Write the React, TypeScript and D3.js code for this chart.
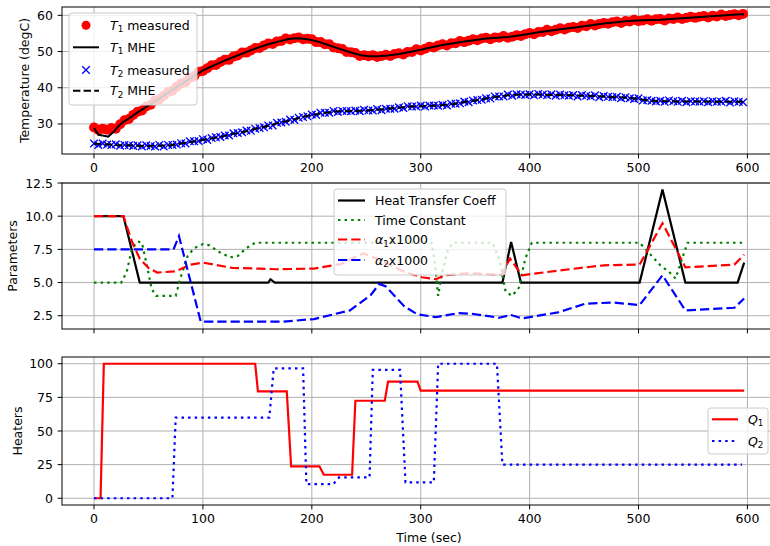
import React from "react";
import { scaleLinear, line } from "d3";

// ---------- data ----------
const xTicks = [0, 100, 200, 300, 400, 500, 600];
const tempTicks = [30, 40, 50, 60];
const paramTicks = [2.5, 5.0, 7.5, 10.0, 12.5];
const heaterTicks = [0, 25, 50, 75, 100];

// measured temperatures, one sample every 4 s starting at t = 0
const sampleStep = 4;
const t1Measured = [
  29.0, 28.4, 28.7, 28.4, 28.9, 28.7, 29.9, 31.0, 31.4, 32.5,
  33.4, 33.7, 34.8, 35.3, 36.5, 36.8, 37.8, 38.8, 39.2, 40.3,
  41.2, 41.5, 42.7, 43.2, 44.4, 44.6, 45.4, 46.2, 46.3, 47.1,
  47.7, 47.7, 48.6, 48.9, 49.7, 49.7, 50.3, 51.0, 51.0, 51.7,
  52.2, 52.1, 52.8, 52.9, 53.6, 53.3, 53.7, 53.9, 53.4, 53.5,
  53.4, 52.6, 52.6, 52.0, 52.0, 51.1, 50.9, 50.7, 49.9, 49.8,
  49.6, 48.8, 49.0, 48.7, 49.0, 48.5, 48.8, 49.1, 48.8, 49.3,
  49.5, 49.2, 49.9, 49.9, 50.6, 50.3, 50.8, 51.3, 51.1, 51.7,
  52.0, 51.7, 52.3, 52.3, 52.9, 52.6, 53.0, 53.4, 53.1, 53.6,
  53.8, 53.4, 53.9, 53.8, 54.3, 53.8, 54.1, 54.5, 54.3, 54.8,
  55.1, 54.8, 55.4, 55.4, 56.0, 55.6, 56.0, 56.4, 56.1, 56.6,
  56.8, 56.5, 57.1, 57.0, 57.6, 57.2, 57.6, 57.9, 57.7, 58.1,
  58.3, 57.9, 58.4, 58.3, 58.8, 58.4, 58.6, 58.9, 58.5, 58.9,
  59.0, 58.6, 59.1, 59.0, 59.4, 59.0, 59.3, 59.6, 59.3, 59.6,
  59.8, 59.4, 59.9, 59.7, 60.2, 59.8, 60.1, 60.3, 60.0, 60.4,
];
const t2Measured = [
  24.6, 24.2, 24.6, 24.3, 24.2, 24.4, 24.0, 24.2, 24.1, 23.9,
  24.1, 23.8, 24.1, 23.9, 23.8, 24.2, 23.8, 24.2, 24.2, 24.3,
  24.7, 24.6, 25.2, 25.2, 25.3, 25.8, 25.6, 26.1, 26.3, 26.4,
  26.8, 26.8, 27.4, 27.5, 27.7, 28.2, 28.1, 28.7, 28.9, 29.1,
  29.6, 29.6, 30.3, 30.4, 30.6, 31.2, 31.1, 31.7, 31.9, 32.1,
  32.6, 32.5, 33.1, 33.1, 33.1, 33.6, 33.3, 33.6, 33.6, 33.5,
  33.7, 33.5, 33.9, 33.7, 33.7, 34.1, 33.8, 34.2, 34.2, 34.2,
  34.6, 34.4, 34.9, 34.8, 34.8, 35.1, 34.8, 35.1, 35.1, 35.0,
  35.3, 35.1, 35.6, 35.6, 35.7, 36.2, 36.0, 36.5, 36.6, 36.7,
  37.1, 37.0, 37.6, 37.6, 37.6, 38.1, 37.8, 38.2, 38.1, 38.0,
  38.2, 37.9, 38.3, 38.1, 37.9, 38.2, 37.8, 38.1, 37.9, 37.8,
  38.0, 37.6, 38.0, 37.8, 37.6, 37.9, 37.4, 37.7, 37.5, 37.4,
  37.5, 37.1, 37.4, 37.1, 36.9, 37.1, 36.5, 36.6, 36.4, 36.2,
  36.4, 36.1, 36.5, 36.3, 36.1, 36.4, 36.0, 36.3, 36.2, 36.1,
  36.3, 36.0, 36.3, 36.1, 36.1, 36.4, 35.9, 36.3, 36.1, 36.0,
];

// MHE estimates [time, value]
const t1Mhe: [number, number][] = [
  [0, 28.9], [4, 27.0], [8, 26.8], [13, 26.5], [18, 27.8], [23, 29.6], [27, 30.6],
  [32, 31.5], [40, 33.2], [50, 35.1], [60, 37.0], [70, 39.0], [80, 41.0], [90, 42.9],
  [100, 44.8], [110, 46.2], [120, 47.5], [130, 48.7], [140, 49.9], [150, 51.0],
  [160, 52.0], [170, 52.8], [180, 53.5], [188, 53.7], [196, 53.4], [205, 52.8],
  [215, 51.8], [225, 50.8], [235, 49.8], [245, 49.0], [253, 48.7], [260, 48.7],
  [270, 48.9], [280, 49.3], [290, 49.9], [300, 50.5], [310, 51.2], [320, 51.8],
  [330, 52.3], [340, 52.8], [350, 53.2], [360, 53.6], [370, 53.8], [380, 54.0],
  [390, 54.4], [400, 54.9], [410, 55.4], [420, 55.8], [430, 56.2], [440, 56.6],
  [450, 57.0], [460, 57.4], [470, 57.8], [480, 58.1], [490, 58.4], [500, 58.6],
  [510, 58.7], [520, 58.8], [530, 59.0], [540, 59.2], [550, 59.4], [560, 59.6],
  [570, 59.8], [580, 60.0], [590, 60.2], [597, 60.3],
];
const t2Mhe: [number, number][] = [
  [0, 24.5], [10, 24.4], [20, 24.2], [30, 24.1], [40, 24.0], [50, 23.9], [60, 24.0],
  [70, 24.1], [80, 24.6], [90, 25.1], [100, 25.6], [110, 26.1], [120, 26.7],
  [130, 27.4], [140, 28.0], [150, 28.8], [160, 29.5], [170, 30.3], [180, 31.0],
  [190, 31.8], [200, 32.5], [210, 33.0], [220, 33.4], [230, 33.5], [240, 33.6],
  [250, 33.7], [260, 33.9], [270, 34.2], [280, 34.5], [290, 34.8], [300, 34.9],
  [310, 35.0], [320, 35.2], [330, 35.5], [340, 36.0], [350, 36.5], [360, 37.0],
  [370, 37.5], [380, 37.9], [390, 38.1], [400, 38.1], [410, 38.1], [420, 38.0],
  [430, 38.0], [440, 37.9], [450, 37.8], [460, 37.7], [470, 37.5], [480, 37.4],
  [490, 37.2], [500, 36.9], [510, 36.4], [520, 36.3], [540, 36.2], [560, 36.2],
  [580, 36.1], [597, 36.1],
];

// estimated parameters [time, value]
const heatTransfer: [number, number][] = [
  [0, 10], [27, 10], [42, 5], [160, 5], [162, 5.25], [166, 5], [375, 5], [383, 8.05],
  [392, 5], [501, 5], [522, 12], [543, 5], [591, 5], [597, 6.5],
];
const timeConstant: [number, number][] = [
  [0, 5], [25, 5], [30, 5.8], [35, 7.6], [40, 8.1], [44, 8.0], [48, 6.5], [53, 4.5],
  [57, 4.0], [75, 4.0], [80, 5.5], [86, 7.0], [92, 7.6], [100, 7.9], [106, 7.8],
  [115, 7.3], [125, 6.9], [132, 7.0], [140, 7.6], [148, 8.0], [310, 8.0], [313, 6.5],
  [316, 4.0], [319, 5.5], [325, 7.5], [330, 8.0], [366, 8.0], [372, 6.8], [378, 4.3],
  [384, 4.0], [390, 4.6], [396, 6.8], [402, 8.0], [501, 8.0], [510, 7.2], [520, 6.3],
  [528, 5.8], [534, 5.3], [540, 6.8], [545, 8.0], [597, 8.0],
];
const alpha1: [number, number][] = [
  [0, 10], [27, 10], [35, 8.05], [42, 6.8], [50, 6.1], [58, 5.75], [75, 5.85],
  [89, 6.35], [100, 6.5], [110, 6.35], [127, 6.1], [152, 6.05], [168, 6.0],
  [202, 6.05], [227, 6.4], [247, 7.2], [260, 6.8], [285, 5.8], [301, 5.4],
  [314, 5.25], [322, 5.55], [343, 5.7], [374, 5.6], [382, 6.8], [393, 5.55],
  [426, 5.9], [468, 6.3], [501, 6.35], [522, 9.47], [543, 6.15], [588, 6.35], [597, 7.1],
];
const alpha2: [number, number][] = [
  [0, 7.5], [73, 7.5], [78, 8.5], [98, 2.05], [173, 2.05], [202, 2.25], [235, 2.9],
  [254, 4.05], [262, 4.9], [268, 4.7], [285, 3.2], [297, 2.6], [314, 2.4], [335, 2.7],
  [347, 2.65], [372, 2.35], [383, 2.55], [393, 2.3], [426, 2.75], [451, 3.4],
  [476, 3.5], [501, 3.3], [522, 5.55], [543, 2.9], [588, 3.1], [597, 3.8],
];

// heater inputs [time, %]
const q1: [number, number][] = [
  [0, 0], [6, 0], [9, 100], [148, 100], [150.5, 79.5], [177, 79.5], [181, 23.75],
  [207, 23.75], [211, 17.5], [237, 17.5], [240, 72.5], [267, 72.5], [270, 86.75],
  [297, 86.75], [300, 80], [597, 80],
];
const q2: [number, number][] = [
  [0, 0], [72, 0], [75, 60], [161, 60], [165, 96.5], [192, 96.5], [195, 10.5],
  [220, 10.5], [222, 13], [225, 15.5], [253, 15.5], [256, 95.5], [281, 95.5],
  [286, 11.75], [312, 11.75], [316, 100], [370, 100], [375, 25], [595, 25],
];

// ---------- layout ----------
const W = 770;
const H = 546;
const LEFT = 62;
const RIGHT = 796; // right spine falls outside the cropped picture
const FONT = "DejaVu Sans, sans-serif";
const FS = 12.5;
const DASH = "9.25,4";
const DOT = "2.5,4.1";

const x = scaleLinear().domain([-29.4, 644.6]).range([LEFT, RIGHT]);
const yTemp = scaleLinear().domain([21.7, 62.3]).range([154, 7]);
const yPar = scaleLinear().domain([1.5, 12.5]).range([329, 183]);
const yHeat = scaleLinear().domain([-5, 105]).range([505, 357]);

const path = (y: any, d: [number, number][]) =>
  line<[number, number]>()
    .x((p) => x(p[0]))
    .y((p) => y(p[1]))(d) || "";

function Axes({ id, y, ticks, fmt, top, bottom, xLabels, ylabel, ylabelX, children }: any) {
  return (
    <g>
      <defs>
        <clipPath id={id}>
          <rect x={LEFT} y={top} width={RIGHT - LEFT} height={bottom - top} />
        </clipPath>
      </defs>
      <g stroke="#b0b0b0" strokeWidth={1}>
        {xTicks.map((t) => (
          <line key={t} x1={x(t)} x2={x(t)} y1={top} y2={bottom} />
        ))}
        {ticks.map((t: number) => (
          <line key={t} x1={LEFT} x2={RIGHT} y1={y(t)} y2={y(t)} />
        ))}
      </g>
      <g clipPath={`url(#${id})`}>{children}</g>
      <rect x={LEFT} y={top} width={RIGHT - LEFT} height={bottom - top} fill="none" stroke="#000" strokeWidth={1} />
      <g stroke="#000" strokeWidth={1}>
        {xTicks.map((t) => (
          <line key={t} x1={x(t)} x2={x(t)} y1={bottom} y2={bottom + 4.4} />
        ))}
        {ticks.map((t: number) => (
          <line key={t} x1={LEFT - 4.4} x2={LEFT} y1={y(t)} y2={y(t)} />
        ))}
      </g>
      <g fontFamily={FONT} fontSize={FS} fill="#000">
        {xLabels &&
          xTicks.map((t) => (
            <text key={t} x={x(t)} y={bottom + 18} textAnchor="middle">
              {t}
            </text>
          ))}
        {ticks.map((t: number) => (
          <text key={t} x={LEFT - 9} y={y(t) + 4.5} textAnchor="end">
            {fmt(t)}
          </text>
        ))}
        <text
          transform={`translate(${ylabelX},${(top + bottom) / 2}) rotate(-90)`}
          textAnchor="middle"
        >
          {ylabel}
        </text>
      </g>
    </g>
  );
}

function LegendBox({ x0, y0, w, h }: any) {
  return (
    <rect x={x0} y={y0} width={w} height={h} rx={3} fill="#fff" fillOpacity={0.8} stroke="#cccccc" strokeWidth={1} />
  );
}

function MathLabel({ x0, y0, sym, sub, rest }: any) {
  return (
    <text x={x0} y={y0} fontFamily={FONT} fontSize={FS}>
      <tspan fontStyle="italic">{sym}</tspan>
      <tspan fontSize={FS * 0.7} dy={2.6}>{sub}</tspan>
      <tspan dy={-2.6}>{rest}</tspan>
    </text>
  );
}

const xMark = "M-3.8,-3.8L3.8,3.8M-3.8,3.8L3.8,-3.8";

export default function App() {
  return (
    <svg width={W} height={H} style={{ position: "absolute", left: 0, top: 0, background: "#fff" }}>
      {/* temperatures */}
      <Axes id="c1" y={yTemp} ticks={tempTicks} fmt={(t: number) => t} top={7} bottom={154} xLabels ylabel="Temperature (degC)" ylabelX={29}>
        {t1Measured.map((v, i) => (
          <circle key={i} cx={x(i * sampleStep)} cy={yTemp(v)} r={5} fill="#ff0000" />
        ))}
        <path d={path(yTemp, t1Mhe)} fill="none" stroke="#000" strokeWidth={2} />
        {t2Measured.map((v, i) => (
          <path key={i} d={xMark} transform={`translate(${x(i * sampleStep)},${yTemp(v)})`} stroke="#0000ff" strokeWidth={1.3} />
        ))}
        <path d={path(yTemp, t2Mhe)} fill="none" stroke="#000" strokeWidth={2} strokeDasharray="7.4,3.2" />
      </Axes>
      <g>
        <LegendBox x0={69} y0={13} w={128} h={92} />
        <circle cx={86} cy={25.3} r={4.5} fill="#ff0000" />
        <MathLabel x0={110} y0={29.8} sym="T" sub="1" rest=" measured" />
        <line x1={73} x2={99} y1={47.3} y2={47.3} stroke="#000" strokeWidth={2} />
        <MathLabel x0={110} y0={51.8} sym="T" sub="1" rest=" MHE" />
        <path d={xMark} transform="translate(86,70)" stroke="#0000ff" strokeWidth={1.3} />
        <MathLabel x0={110} y0={74.5} sym="T" sub="2" rest=" measured" />
        <line x1={73} x2={99} y1={90.7} y2={90.7} stroke="#000" strokeWidth={2} strokeDasharray="7.4,3.2" />
        <MathLabel x0={110} y0={95.2} sym="T" sub="2" rest=" MHE" />
      </g>

      {/* parameters */}
      <Axes id="c2" y={yPar} ticks={paramTicks} fmt={(t: number) => t.toFixed(1)} top={183} bottom={329} xLabels={false} ylabel="Parameters" ylabelX={17}>
        <path d={path(yPar, heatTransfer)} fill="none" stroke="#000" strokeWidth={2.2} />
        <path d={path(yPar, timeConstant)} fill="none" stroke="#008000" strokeWidth={2.2} strokeDasharray={DOT} />
        <path d={path(yPar, alpha1)} fill="none" stroke="#ff0000" strokeWidth={2.2} strokeDasharray={DASH} />
        <path d={path(yPar, alpha2)} fill="none" stroke="#0000ff" strokeWidth={2.2} strokeDasharray={DASH} />
      </Axes>
      <g>
        <LegendBox x0={334} y0={189} w={172} h={86} />
        <line x1={338} x2={365} y1={200.5} y2={200.5} stroke="#000" strokeWidth={2.2} />
        <text x={375} y={205} fontFamily={FONT} fontSize={FS}>Heat Transfer Coeff</text>
        <line x1={338} x2={365} y1={220} y2={220} stroke="#008000" strokeWidth={2.2} strokeDasharray={DOT} />
        <text x={375} y={224.5} fontFamily={FONT} fontSize={FS}>Time Constant</text>
        <line x1={338} x2={365} y1={239.5} y2={239.5} stroke="#ff0000" strokeWidth={2.2} strokeDasharray={DASH} />
        <MathLabel x0={375} y0={244} sym="α" sub="1" rest="x1000" />
        <line x1={338} x2={365} y1={260} y2={260} stroke="#0000ff" strokeWidth={2.2} strokeDasharray={DASH} />
        <MathLabel x0={375} y0={264.5} sym="α" sub="2" rest="x1000" />
      </g>

      {/* heaters */}
      <Axes id="c3" y={yHeat} ticks={heaterTicks} fmt={(t: number) => t} top={357} bottom={505} xLabels ylabel="Heaters" ylabelX={21.5}>
        <path d={path(yHeat, q1)} fill="none" stroke="#ff0000" strokeWidth={2.2} />
        <path d={path(yHeat, q2)} fill="none" stroke="#0000ff" strokeWidth={2.2} strokeDasharray={DOT} />
      </Axes>
      <g>
        <LegendBox x0={708} y0={408} w={60} h={46} />
        <line x1={712} x2={738} y1={419.3} y2={419.3} stroke="#ff0000" strokeWidth={2.2} />
        <MathLabel x0={748} y0={423.8} sym="Q" sub="1" rest="" />
        <line x1={712} x2={738} y1={441} y2={441} stroke="#0000ff" strokeWidth={2.2} strokeDasharray={DOT} />
        <MathLabel x0={748} y0={445.5} sym="Q" sub="2" rest="" />
      </g>
      <text x={429} y={542} textAnchor="middle" fontFamily={FONT} fontSize={FS}>
        Time (sec)
      </text>
    </svg>
  );
}
